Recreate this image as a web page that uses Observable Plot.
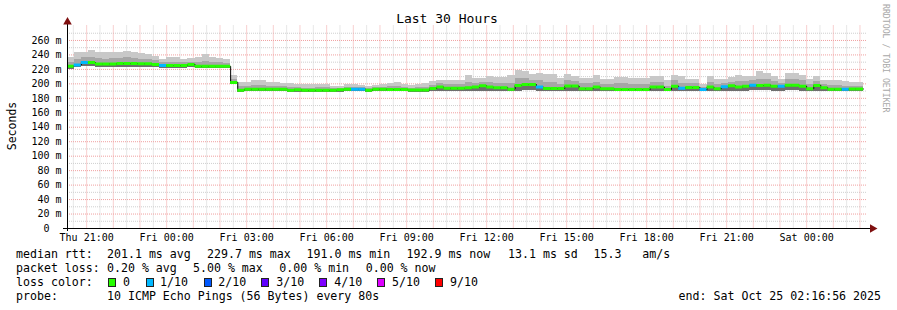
<!DOCTYPE html>
<html>
<head>
<meta charset="utf-8">
<script src="https://cdn.jsdelivr.net/npm/d3@7"></script>
<script src="https://cdn.jsdelivr.net/npm/@observablehq/plot@0.6"></script>
<style>
html, body { margin: 0; padding: 0; background: #fff; }
#wrap { position: relative; width: 897px; height: 310px; overflow: hidden; font-family: "DejaVu Sans Mono", monospace; color: #000; background: #fff; }
#wrap svg { position: absolute; left: 0; top: 0; }
.t { position: absolute; white-space: pre; font-size: 11.6px; line-height: 14px; }
#title { position: absolute; left: 0; width: 894px; top: 11px; text-align: center; font-size: 13px; line-height: 16px; white-space: pre; }
#ylabel { position: absolute; left: 11.5px; top: 126px; transform: translate(-50%, -50%) rotate(-90deg); font-size: 11.5px; line-height: 14px; white-space: pre; }
#mark { position: absolute; left: 881px; top: 4px; writing-mode: vertical-rl; font-size: 8.2px; color: #a8a8a8; white-space: pre; }
.box { position: absolute; width: 8px; height: 9px; box-sizing: border-box; border: 1px solid #222; }
</style>
</head>
<body>
<div id="wrap"></div>
<script>
// ---------- data ----------
const binStart = Date.UTC(2025, 9, 23, 20, 16, 0);   // first 16-minute consolidation bin
const binMinutes = 16;
const rangeStart = Date.UTC(2025, 9, 23, 20, 16, 56);
const rangeEnd = Date.UTC(2025, 9, 25, 2, 16, 56);

const medianMs = [
  224.5,226,229.5,229.5,227.5,227.5,227.5,228,228,228,227.7,227.7,226.8,225.4,225.4,225.4,
  225.4,226.8,224.2,224.2,224.2,224.2,224.2,202,191.3,192.7,192.7,192.7,192.7,192.7,192.7,191.2,
  191.8,191,191,191,191,191,191.8,192.7,192.7,192.7,191.2,192.7,192.7,192.2,192.2,192.2,
  191.5,191.5,191.5,193.6,195.5,194,194,194,194.5,195.5,197.3,195.5,194.5,194.5,192.7,197.8,
  199.1,199.1,195.5,193.6,193.6,193.6,197,197,193.4,193.2,195.5,193.2,193.2,192.2,192.2,192.2,
  192.2,192.2,195.5,195.5,192.2,196.8,194,195,195,192.2,195.5,193.2,196,197.3,195.5,196.8,
  198.2,197.8,198.2,196.8,196.8,198.2,198.2,196.8,193.2,197.8,194.5,192.7,192.7,192.7,192.9,192.9
];
const smokeHigh = [
  236,243,243,246,244,243,244,243,245,243,242,240,238,233,236,236,
  234,235,236,240,237,235,234,211,202,202,205,204,202,202,201,200,
  199,198.5,198.5,199.5,199.5,197,197,199,199,198,196,198,199,201,202,199,
  198,199,200,203,205,205,205,205,211,208,208,210,209,209,211,218,
  217,213,214,213,213,207,213,210,208,208,211,206.5,206.5,209,209,208,
  208,208,210.5,210.5,204,212,209.5,206.5,206.5,199,210.5,206,206.5,209,212,210.5,
  210.5,216.5,215,209.5,206.5,215,215,212,206.5,209.5,205,204,204,203,201.5,201.5
];
const smokeMid = [
  230,233,236,237,235,234,235,235,236,235,234,233,232,229,230,230,
  229,230,229,231,230,229,228,206,196,197,198,198,197,197,196,195,
  195,194,194,195,195,194,194,195,195,195,193,195,195,196,197,195,
  194,195,195,198,200,199,199,199,202,201,202,202,201,201,201,207,
  207,205,204,202,202,199,204,203,200,200,202,199,199,200,200,199,
  199,199,202,202,197,204,201,200,200,195,202,199,200,202,203,203,
  204,206,206,203,201,206,206,204,199,203,199,198,198,197,197,197
];
const smokeLow = [
  220,222,224,224,223,223,223,223,223,223,223,223,222,221,221,221,
  221,222,221,221,221,221,221,199,188,189,189,189,189,189,189,188,
  188,188,188,188,188,188,188,189,189,189,188,189,189,189,189,189,
  188,188,188,189,190,189,189,189,189,190,190,190,189,189,189,190,
  191,191,190,189,189,189,190,190,189,189,190,189,189,189,189,189,
  189,189,190,190,189,190,190,190,190,189,190,189,190,190,190,190,
  191,191,191,190,190,191,191,190,189,190,189,189,189,189,189,189
];
const lossTenths = [
  0,1,1,0,0,0,0,0,0,0,0,0,0,1,0,0,
  0,0,0,0,0,0,0,0,0,0,0,0,0,0,0,0,
  0,0,0,0,0,0,0,0,1,1,0,0,0,0,0,0,
  0,0,0,0,0,0,0,0,0,0,0,0,0,0,0,0,
  0,0,1,0,0,0,0,0,0,0,0,0,0,0,0,0,
  0,0,0,0,0,0,1,0,0,1,0,0,1,0,0,0,
  1,0,0,0,1,0,0,0,0,0,0,0,0,1,0,0
];
const yTicks = [0,20,40,60,80,100,120,140,160,180,200,220,240,260];
const lossLevels = [0, 1, 2, 3, 4, 5, 9];
const lossLabels = ["0", "1/10", "2/10", "3/10", "4/10", "5/10", "9/10"];
const lossColors = ["#26ff00", "#00b8ff", "#0059ff", "#5e00ff", "#7e00ff", "#dd00ff", "#ff0000"];
const rttStats = ["201.1 ms avg", "229.7 ms max", "191.0 ms min", "192.9 ms now", "13.1 ms sd", "15.3   am/s"];
const lossStats = ["0.20 % avg", "5.00 % max", "0.00 % min", "0.00 % now"];
const probeText = "10 ICMP Echo Pings (56 Bytes) every 80s";
const endText = "end: Sat Oct 25 02:16:56 2025";
const titleText = "Last 30 Hours";
const yLabelText = "Seconds";

// ---------- build ----------
const step = binMinutes * 60000;
const rows = medianMs.map((m, i) => ({
  t0: new Date(binStart + i * step),
  t1: new Date(binStart + (i + 1) * step),
  med: m, lo: smokeLow[i], mid: smokeMid[i], hi: smokeHigh[i],
  color: lossColors[lossLevels.indexOf(lossTenths[i])]
}));
const linePts = rows.map(r => ({t: r.t0, v: r.med}))
  .concat([{t: rows[rows.length - 1].t1, v: rows[rows.length - 1].med}]);

const tStart = new Date(rangeStart), tEnd = new Date(rangeEnd);
const minorX = d3.utcMinute.every(30).range(tStart, tEnd).filter(d => d.getUTCMinutes() !== 0);
const majorX = d3.utcHour.range(tStart, tEnd);
const minorY = d3.range(10, 280, 20);
const majorY = d3.range(20, 280, 20);
const xTicks = d3.utcHour.every(3).range(tStart, tEnd);

const gridMinor = "#cfcfcf", gridMajor = "#f0a0a0";

const chart = Plot.plot({
  width: 897, height: 245,
  marginLeft: 67, marginRight: 30, marginTop: 25.5, marginBottom: 17,
  x: {type: "utc", domain: [tStart, tEnd], axis: null},
  y: {domain: [0, 280], axis: null},
  color: {type: "identity"},
  style: {fontFamily: "'DejaVu Sans Mono', monospace", fontSize: "10px", color: "#000", background: "transparent", overflow: "visible"},
  marks: [
    Plot.ruleX(minorX, {stroke: gridMinor, strokeDasharray: "1,1"}),
    Plot.ruleY(minorY, {stroke: gridMinor, strokeDasharray: "1,1"}),
    Plot.ruleX(majorX, {stroke: gridMajor, strokeDasharray: "1,1"}),
    Plot.ruleY(majorY, {stroke: gridMajor, strokeDasharray: "1,1"}),
    Plot.rect(rows, {x1: "t0", x2: "t1", y1: "lo", y2: "hi", fill: "#c8c8c8", shapeRendering: "crispEdges", clip: true}),
    Plot.rect(rows, {x1: "t0", x2: "t1", y1: "lo", y2: "mid", fill: "#a6a6a6", shapeRendering: "crispEdges", clip: true}),
    Plot.rect(rows, {x1: "t0", x2: "t1", y1: "lo", y2: "med", fill: "#6e6e6e", shapeRendering: "crispEdges", clip: true}),
    Plot.line(linePts, {x: "t", y: "v", curve: "step-after", stroke: "#000", strokeWidth: 1, clip: true}),
    Plot.ruleY(rows, {y: "med", x1: "t0", x2: "t1", stroke: "color", strokeWidth: 3, clip: true}),
    Plot.ruleY([0], {stroke: "#000", insetLeft: -4, insetRight: -4}),
    Plot.ruleX([tStart], {stroke: "#000", insetTop: -4, insetBottom: -3}),
    Plot.dot([tStart], {x: d => d, y: 280, symbol: "triangle", r: 3.2, fill: "#7f1010", stroke: "none", dy: -4}),
    Plot.dot([tEnd], {x: d => d, y: 0, symbol: "triangle", rotate: 90, r: 3.2, fill: "#7f1010", stroke: "none", dx: 5}),
    Plot.axisX({ticks: xTicks, tickFormat: d3.utcFormat("%a %H:%M"), tickSize: 0, tickPadding: 5, fontSize: 10}),
    Plot.axisY({ticks: yTicks, tickFormat: d => d === 0 ? "0\u00a0\u00a0" : d + " m", tickSize: 0, tickPadding: 6, fontSize: 10})
  ]
});

const wrap = document.getElementById("wrap");
wrap.appendChild(chart);

function addText(txt, x, y, cls) {
  const el = document.createElement("div");
  el.className = cls || "t";
  el.textContent = txt;
  el.style.left = x + "px";
  el.style.top = y + "px";
  wrap.appendChild(el);
  return el;
}
const title = document.createElement("div");
title.id = "title"; title.textContent = titleText; wrap.appendChild(title);
const yl = document.createElement("div");
yl.id = "ylabel"; yl.textContent = yLabelText; wrap.appendChild(yl);
const mk = document.createElement("div");
mk.id = "mark"; mk.textContent = "RRDTOOL / TOBI OETIKER"; wrap.appendChild(mk);

const rowTop = [246.7, 260.7, 274.7, 288.7];
addText("median rtt:", 16, rowTop[0]);
[107, 207, 306.5, 406.5, 508, 593.5].forEach((x, i) => addText(rttStats[i], x, rowTop[0]));
addText("packet loss:", 16, rowTop[1]);
[107, 193, 279.3, 365.7].forEach((x, i) => addText(lossStats[i], x, rowTop[1]));
addText("loss color:", 16, rowTop[2]);
const boxX = [108, 146, 203.5, 261, 319, 377, 435];
const labX = [123, 160, 218.3, 276.3, 334.3, 392, 450];
lossLabels.forEach((lab, i) => {
  const b = document.createElement("div");
  b.className = "box";
  b.style.left = boxX[i] + "px";
  b.style.top = "278px";
  b.style.background = lossColors[i];
  wrap.appendChild(b);
  addText(lab, labX[i], rowTop[2]);
});
addText("probe:", 16, rowTop[3]);
addText(probeText, 107, rowTop[3]);
const e = addText(endText, 0, rowTop[3]);
e.style.left = ""; e.style.right = "16px";
</script>
</body>
</html>
